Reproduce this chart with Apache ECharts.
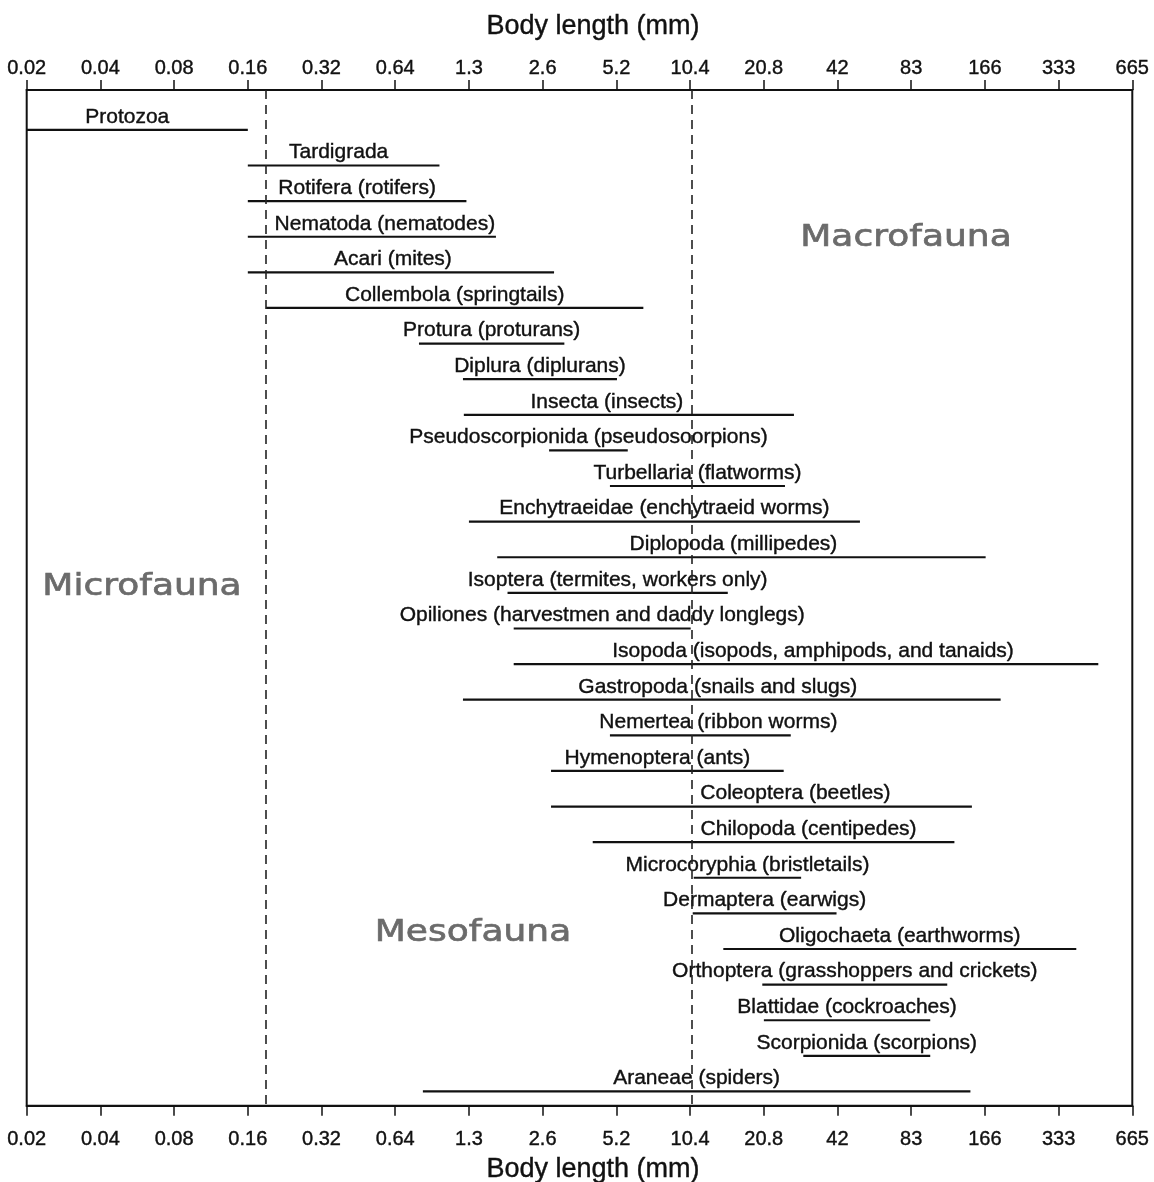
<!DOCTYPE html>
<html>
<head>
<meta charset="utf-8">
<title>Body length ranges of soil fauna</title>
<script src="https://cdn.jsdelivr.net/npm/echarts@6/dist/echarts.min.js"></script>
<style>
  html, body { margin: 0; padding: 0; background: #ffffff; }
  #chart { width: 1154px; height: 1182px; }
</style>
</head>
<body>
<div id="chart"></div>
<script>
// Body-length axis: each tick is one doubling, starting at 0.02 mm
const tickLabels = ['0.02', '0.04', '0.08', '0.16', '0.32', '0.64', '1.3', '2.6', '5.2',
  '10.4', '20.8', '42', '83', '166', '333', '665'];
const axisBase = 0.02;

// Taxa, top to bottom
const taxa = [
  'Protozoa',
  'Tardigrada',
  'Rotifera (rotifers)',
  'Nematoda (nematodes)',
  'Acari (mites)',
  'Collembola (springtails)',
  'Protura (proturans)',
  'Diplura (diplurans)',
  'Insecta (insects)',
  'Pseudoscorpionida (pseudosoorpions)',
  'Turbellaria (flatworms)',
  'Enchytraeidae (enchytraeid worms)',
  'Diplopoda (millipedes)',
  'Isoptera (termites, workers only)',
  'Opiliones (harvestmen and daddy longlegs)',
  'Isopoda (isopods, amphipods, and tanaids)',
  'Gastropoda (snails and slugs)',
  'Nemertea (ribbon worms)',
  'Hymenoptera (ants)',
  'Coleoptera (beetles)',
  'Chilopoda (centipedes)',
  'Microcoryphia (bristletails)',
  'Dermaptera (earwigs)',
  'Oligochaeta (earthworms)',
  'Orthoptera (grasshoppers and crickets)',
  'Blattidae (cockroaches)',
  'Scorpionida (scorpions)',
  'Araneae (spiders)'
];

// Smallest and largest body length of each taxon (mm)
const minLength = [0.02, 0.16, 0.16, 0.16, 0.16, 0.19, 0.8, 1.21, 1.22, 2.72,
  4.82, 1.28, 1.67, 1.84, 1.95, 1.95, 1.21, 4.82, 2.77, 2.77,
  4.1, 10.6, 10.5, 14, 20.2, 20.5, 29.7, 0.83];
const maxLength = [0.16, 0.97, 1.25, 1.65, 2.85, 6.6, 3.14, 5.15, 27.2, 5.7,
  25, 50.6, 165, 14.6, 10.3, 476, 190, 26.4, 24.7, 145,
  123, 29.1, 40.6, 387, 115, 98, 98, 143];

// Size-class boundaries (mm): micro/meso and meso/macro
const zoneBounds = [0.19, 10.4];
const zoneNames = ['Microfauna', 'Mesofauna', 'Macrofauna'];

// Horizontal nudges (px) for labels set off-centre from their bar
const labelNudge = {
  'Protozoa': -10, 'Tardigrada': -5, 'Nematoda (nematodes)': 13, 'Acari (mites)': -8,
  'Insecta (insects)': -22, 'Diplopoda (millipedes)': -8,
  'Isopoda (isopods, amphipods, and tanaids)': 7, 'Gastropoda (snails and slugs)': -14,
  'Nemertea (ribbon worms)': 18, 'Hymenoptera (ants)': -10,
  'Coleoptera (beetles)': 34, 'Chilopoda (centipedes)': 35
};

const toAxis = mm => Math.log2(mm / axisBase);

const rangeData = taxa.map((name, i) => [toAxis(minLength[i]), i, toAxis(maxLength[i])]);

const FONT = '"Liberation Sans", Arial, Helvetica, sans-serif';
const INK = '#111111';
const ZONE_INK = '#6b6b6b';

function xAxisFor(position, labelMargin) {
  return {
    type: 'value',
    position: position,
    min: 0,
    max: tickLabels.length - 1,
    interval: 1,
    axisLine: { show: true, onZero: false, lineStyle: { color: INK, width: 2 } },
    axisTick: { show: true, length: 10, lineStyle: { color: INK, width: 1.5 } },
    axisLabel: {
      margin: labelMargin,
      fontSize: 20,
      fontFamily: FONT,
      color: INK,
      textBorderColor: INK,
      textBorderWidth: 0.4,
      formatter: v => tickLabels[Math.round(v)]
    },
    splitLine: { show: false }
  };
}

function zoneText(name, x, y) {
  return {
    type: 'text', x: x, y: y, scaleY: 0.85,
    style: {
      text: name, font: '36px "DejaVu Sans", sans-serif', fill: ZONE_INK,
      stroke: ZONE_INK, lineWidth: 0.8, align: 'center', verticalAlign: 'middle'
    }
  };
}

function axisTitle(y) {
  return {
    type: 'text', x: 593, y: y,
    style: {
      text: 'Body length (mm)', font: '27px ' + FONT, fill: INK,
      stroke: INK, lineWidth: 0.4, align: 'center', verticalAlign: 'middle'
    }
  };
}

const chart = echarts.init(document.getElementById('chart'));

chart.setOption({
  animation: false,
  backgroundColor: '#ffffff',
  grid: {
    left: 26.7, right: 21.7, top: 90, bottom: 76.3,
    show: true, borderColor: INK, borderWidth: 2
  },
  xAxis: [xAxisFor('top', 12), xAxisFor('bottom', 24)],
  yAxis: { type: 'value', inverse: true, min: -1.12, max: 27.4, show: false },
  graphic: [
    axisTitle(27),
    axisTitle(1170),
    zoneText(zoneNames[0], 142, 587),
    zoneText(zoneNames[1], 473, 933),
    zoneText(zoneNames[2], 906, 238)
  ],
  series: [{
    type: 'custom',
    name: 'Body length range',
    xAxisIndex: 0,
    yAxisIndex: 0,
    encode: { x: [0, 2], y: 1 },
    data: rangeData,
    renderItem: function (params, api) {
      const row = api.value(1);
      const p1 = api.coord([api.value(0), row]);
      const p2 = api.coord([api.value(2), row]);
      const name = taxa[params.dataIndex];
      const nudge = labelNudge[name] || 0;
      return {
        type: 'group',
        children: [
          {
            type: 'line',
            shape: { x1: p1[0], y1: p1[1], x2: p2[0], y2: p2[1] },
            style: { stroke: INK, lineWidth: 2.2 }
          },
          {
            type: 'text',
            x: (p1[0] + p2[0]) / 2 + nudge,
            y: p1[1] - 13,
            style: {
              text: name, font: '21px ' + FONT, fill: INK,
              stroke: INK, lineWidth: 0.4, align: 'center', verticalAlign: 'middle'
            }
          }
        ]
      };
    },
    markLine: {
      silent: true,
      symbol: 'none',
      label: { show: false },
      lineStyle: { type: [9, 6], color: '#222222', width: 1.6 },
      data: zoneBounds.map(b => ({ xAxis: toAxis(b) }))
    }
  }]
});
</script>
</body>
</html>
